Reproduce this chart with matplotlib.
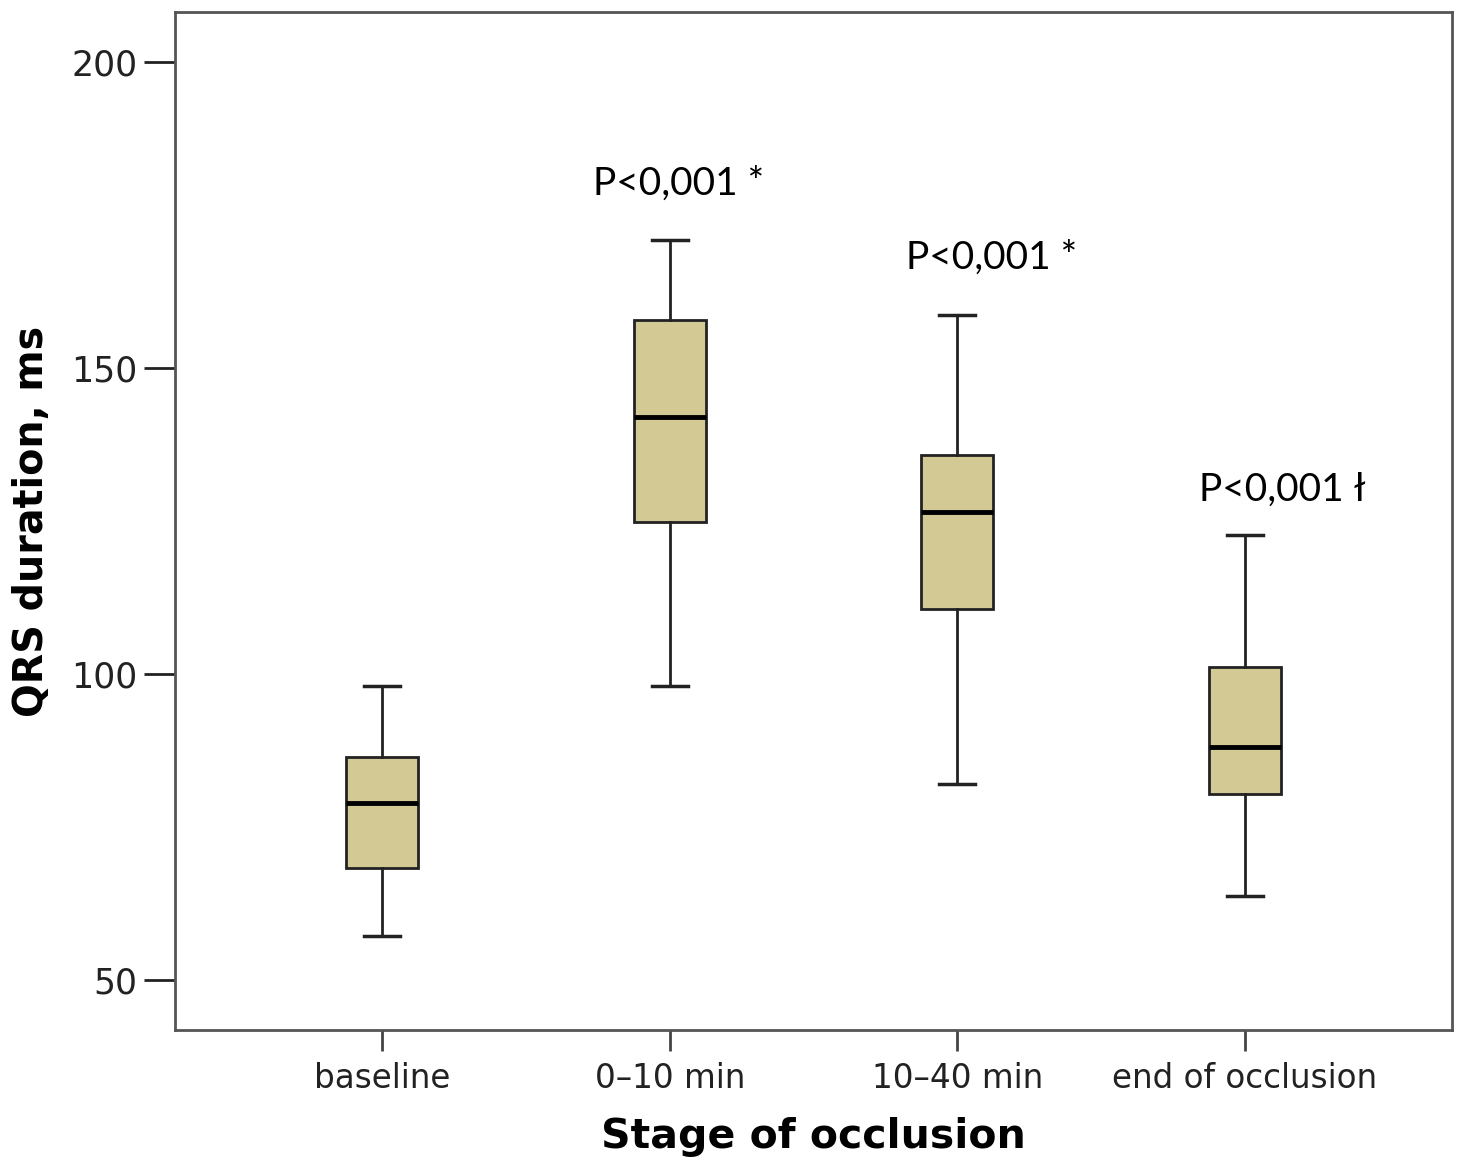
import matplotlib
matplotlib.use("Agg")
import matplotlib.pyplot as plt

categories = ["baseline", "0-10 min", "10-40 min", "end of occlusion"]
whisker_low = [57.2, 98.0, 82.0, 63.7]
q1 = [68.3, 124.8, 110.6, 80.4]
median = [78.9, 142.0, 126.5, 88.1]
q3 = [86.4, 157.8, 135.8, 101.1]
whisker_high = [98.0, 170.9, 158.7, 122.7]
yticks = [50, 100, 150, 200]

annot_text = ["P<0,001 *", "P<0,001 *", "P<0,001 ł"]
annot_cat = [1, 2, 3]
annot_y = [180.2, 168.0, 130.1]

fig = plt.figure(figsize=(14.63, 11.71), dpi=100)
ax = fig.add_axes([0.1196, 0.1204, 0.8729, 0.8694])

stats = []
for i, c in enumerate(categories):
    stats.append(dict(label=c, whislo=whisker_low[i], q1=q1[i], med=median[i],
                      q3=q3[i], whishi=whisker_high[i], fliers=[]))

ax.bxp(stats, positions=range(len(categories)), widths=0.25, patch_artist=True,
       showfliers=False,
       boxprops=dict(facecolor="#D3C995", edgecolor="#222222", linewidth=2),
       medianprops=dict(color="black", linewidth=3.5),
       whiskerprops=dict(color="#222222", linewidth=2),
       capprops=dict(color="#222222", linewidth=2.5),
       capwidths=0.125)

ax.set_xlim(-0.72, 3.72)
ax.set_ylim(41.8, 208.2)
ax.set_yticks(yticks)
ax.set_yticklabels([str(t) for t in yticks], fontsize=25, color="#222222",
                   family="DejaVu Sans")
ax.set_xticks(range(len(categories)))
ax.set_xticklabels(["baseline", "0\u201310 min", "10\u201340 min", "end of occlusion"],
                   fontsize=23.5, color="#222222", family="DejaVu Sans")
ax.tick_params(axis="y", length=22, width=2, color="#222222", pad=5)
ax.tick_params(axis="x", length=15, width=2, color="#444444", pad=8)

for s in ax.spines.values():
    s.set_linewidth(2)
    s.set_color("#555555")

ax.set_ylabel("QRS duration, ms", fontsize=28.5, fontweight="bold", labelpad=14,
              family="DejaVu Sans")
ax.set_xlabel("Stage of occlusion", fontsize=29.5, fontweight="bold", labelpad=16,
              family="DejaVu Sans")

offsets = [0.03, 0.12, 0.13]
for t, c, y, o in zip(annot_text, annot_cat, annot_y, offsets):
    ax.text(c + o, y, t, ha="center", va="center", fontsize=28, family="Lato",
            color="black")

fig.savefig("out.png", dpi=100)
